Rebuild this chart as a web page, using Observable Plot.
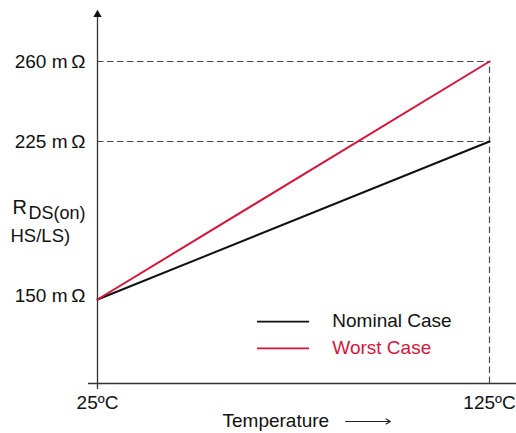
<!DOCTYPE html>
<html>
<head>
<meta charset="utf-8">
<script src="https://cdn.jsdelivr.net/npm/d3@7"></script>
<script src="https://cdn.jsdelivr.net/npm/@observablehq/plot@0.6"></script>
<style>
  body { margin: 0; background: #fff; }
  #chart svg { display: block; }
</style>
</head>
<body>
<div id="chart"></div>
<script>
// ---- data ----
const temperatures = [25, 125];                 // °C
const seriesNames = ["Nominal Case", "Worst Case"];
const nominalCase = [150, 225];                 // mΩ
const worstCase = [150, 260];                   // mΩ
const yTickValues = [260, 225, 150];
const yTickLabels = ["260 m\u2009Ω", "225 m\u2009Ω", "150 m\u2009Ω"];
const xTickValues = [25, 125];
const xTickLabels = ["25ºC", "125ºC"];
const seriesColors = ["#111111", "#d4163c"];

// ---- table for the library ----
const rows = [];
temperatures.forEach((t, i) => {
  rows.push({series: seriesNames[0], t, r: nominalCase[i]});
  rows.push({series: seriesNames[1], t, r: worstCase[i]});
});

// schematic axis floor (unlabelled origin of the y axis)
const yFloor = 110;
const font = "'Liberation Sans', Arial, Helvetica, sans-serif";
const axisColor = "#333";
const dashColor = "#4a4a4a";

// legend layout (annotation, in chart units)
const legendX1 = 65.8, legendX2 = 79.1, legendTextX = 84.9;
const legendY = [139.5, 126.7];
const legendRows = seriesNames.map((s, i) => ({series: s, y: legendY[i]}));

const chart = Plot.plot({
  width: 516,
  height: 433,
  marginLeft: 97,
  marginRight: 27,
  marginTop: 61,
  marginBottom: 50,
  style: {fontFamily: font, background: "#fff"},
  x: {domain: [25, 125], range: [97, 489], axis: null},
  y: {type: "linear", domain: [yFloor, 150, 225, 260], range: [383, 299, 141, 61], axis: null},
  color: {domain: seriesNames, range: seriesColors},
  marks: [
    // dashed guides
    Plot.ruleY([225, 260], {x1: 25, x2: 125, stroke: dashColor, strokeWidth: 1.2, strokeDasharray: "6.5,3.5"}),
    Plot.ruleX([125], {y1: yFloor, y2: 260, stroke: dashColor, strokeWidth: 1.2, strokeDasharray: "6.5,3.5"}),
    // axes
    Plot.ruleX([25], {insetTop: -48, insetBottom: -6, stroke: axisColor, strokeWidth: 1.3}),
    Plot.ruleY([yFloor], {insetLeft: -9, insetRight: -27, stroke: axisColor, strokeWidth: 1.3}),
    Plot.dot([25], {x: d => d, frameAnchor: "top", dy: -47, symbol: "triangle", r: 3.1, fill: "#111", stroke: "none"}),
    // data lines
    Plot.line(rows, {x: "t", y: "r", z: "series", stroke: "series", strokeWidth: 2}),
    // y tick labels
    Plot.text(yTickValues.slice(0, 2), {
      y: d => d, text: (d, i) => yTickLabels[i], frameAnchor: "left", dx: -12,
      textAnchor: "end", lineAnchor: "middle", fontSize: 19, fill: "#111"
    }),
    Plot.text(yTickValues.slice(2), {
      y: d => d, text: (d, i) => yTickLabels[2 + i], frameAnchor: "left", dx: -12, dy: -4,
      textAnchor: "end", lineAnchor: "middle", fontSize: 19, fill: "#111"
    }),
    // x tick labels
    Plot.text(xTickValues, {
      x: d => d, text: (d, i) => xTickLabels[i], frameAnchor: "bottom", dy: 19,
      textAnchor: "middle", lineAnchor: "middle", fontSize: 19, fill: "#111"
    }),
    // y axis title: R_DS(on) HS/LS)
    Plot.text(["R"], {frameAnchor: "top-left", dx: -85, dy: 146.5, textAnchor: "start", lineAnchor: "middle", fontSize: 20, fill: "#111"}),
    Plot.text(["DS(on)"], {frameAnchor: "top-left", dx: -69, dy: 152, textAnchor: "start", lineAnchor: "middle", fontSize: 18, fill: "#111"}),
    Plot.text(["HS/LS)"], {frameAnchor: "top-left", dx: -87, dy: 175, textAnchor: "start", lineAnchor: "middle", fontSize: 18.5, fill: "#111"}),
    // x axis title
    Plot.text(["Temperature"], {frameAnchor: "bottom-left", dx: 125, dy: 37, textAnchor: "start", lineAnchor: "middle", fontSize: 19, fill: "#111"}),
    Plot.arrow([0], {x1: 88.3, x2: 99.7, y1: yFloor, y2: yFloor, dy: 38, stroke: "#222", strokeWidth: 1.2, headLength: 6}),
    // legend
    Plot.ruleY(legendRows, {y: "y", x1: legendX1, x2: legendX2, stroke: "series", strokeWidth: 1.8}),
    Plot.text(legendRows, {x: legendTextX, y: "y", text: "series", fill: "series", textAnchor: "start", lineAnchor: "middle", fontSize: 19, dy: -1})
  ]
});
document.getElementById("chart").appendChild(chart);
</script>
</body>
</html>
